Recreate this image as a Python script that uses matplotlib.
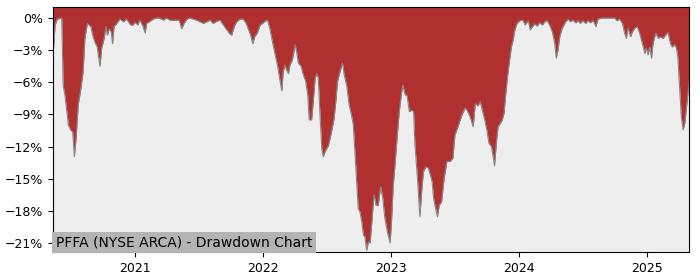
import matplotlib
matplotlib.use("Agg")
import matplotlib.pyplot as plt
import matplotlib.dates as mdates
from matplotlib.ticker import FuncFormatter
import pandas as pd

title = "PFFA (NYSE ARCA) - Drawdown Chart"

dates = [
"2020-05-12","2020-05-18","2020-05-24","2020-06-06","2020-06-10","2020-06-15","2020-06-25","2020-07-02",
"2020-07-07","2020-07-12","2020-07-17","2020-07-23","2020-07-30","2020-08-06","2020-08-11","2020-08-18",
"2020-08-28","2020-09-02","2020-09-09","2020-09-15","2020-09-23","2020-09-28","2020-10-05","2020-10-10",
"2020-10-14","2020-10-20","2020-10-25","2020-10-29","2020-11-02","2020-11-10","2020-11-19","2020-11-29",
"2020-12-08","2020-12-18","2020-12-25","2021-01-01","2021-01-09","2021-01-15","2021-01-23","2021-01-30",
"2021-02-03","2021-02-13","2021-02-22","2021-03-04","2021-03-11","2021-03-23","2021-04-01","2021-04-11",
"2021-04-20","2021-04-30","2021-05-07","2021-05-14","2021-05-21","2021-05-29","2021-06-07","2021-06-16",
"2021-06-26","2021-07-06","2021-07-15","2021-07-25","2021-08-03","2021-08-12","2021-08-22","2021-09-01",
"2021-09-10","2021-09-20","2021-09-29","2021-10-04","2021-10-11","2021-10-18","2021-10-28","2021-11-06",
"2021-11-14","2021-11-20","2021-11-27","2021-12-03","2021-12-09","2021-12-16","2021-12-24","2021-12-31",
"2022-01-07","2022-01-14","2022-01-21","2022-01-28","2022-02-05","2022-02-12","2022-02-19","2022-02-24",
"2022-02-28","2022-03-05","2022-03-10","2022-03-15","2022-03-19","2022-03-26","2022-04-03","2022-04-07",
"2022-04-12","2022-04-20","2022-04-26","2022-05-03","2022-05-09","2022-05-13","2022-05-20","2022-05-25",
"2022-05-30","2022-06-04","2022-06-08","2022-06-13","2022-06-18","2022-06-22","2022-06-27","2022-07-07",
"2022-07-16","2022-07-23","2022-07-28","2022-08-02","2022-08-09","2022-08-16","2022-08-21","2022-08-28",
"2022-09-04","2022-09-11","2022-09-16","2022-09-21","2022-09-26","2022-09-30","2022-10-05","2022-10-10",
"2022-10-15","2022-10-19","2022-10-24","2022-10-29","2022-11-03","2022-11-08","2022-11-14","2022-11-20",
"2022-11-26","2022-12-03","2022-12-09","2022-12-15","2022-12-22","2022-12-30","2023-01-03","2023-01-08",
"2023-01-13","2023-01-18","2023-01-25","2023-02-01","2023-02-04","2023-02-11","2023-02-16","2023-02-23",
"2023-03-02","2023-03-07","2023-03-11","2023-03-18","2023-03-25","2023-03-30","2023-04-04","2023-04-11",
"2023-04-18","2023-04-25","2023-04-29","2023-05-03","2023-05-07","2023-05-14","2023-05-19","2023-05-26",
"2023-06-02","2023-06-10","2023-06-19","2023-06-27","2023-07-03","2023-07-10","2023-07-16","2023-07-22",
"2023-08-01","2023-08-06","2023-08-11","2023-08-16","2023-08-24","2023-08-30","2023-09-07","2023-09-13",
"2023-09-19","2023-09-26","2023-10-02","2023-10-08","2023-10-15","2023-10-20","2023-10-24","2023-10-29",
"2023-11-03","2023-11-10","2023-11-15","2023-11-20","2023-11-27","2023-12-01","2023-12-06","2023-12-11",
"2023-12-16","2023-12-21","2023-12-27","2024-01-04","2024-01-13","2024-01-19","2024-01-28","2024-02-03",
"2024-02-09","2024-02-16","2024-02-22","2024-03-01","2024-03-09","2024-03-15","2024-03-22","2024-03-29",
"2024-04-06","2024-04-13","2024-04-17","2024-04-22","2024-04-27","2024-05-04","2024-05-14","2024-05-21",
"2024-05-27","2024-06-04","2024-06-12","2024-06-18","2024-06-25","2024-07-02","2024-07-10","2024-07-17",
"2024-07-24","2024-07-31","2024-08-08","2024-08-14","2024-08-24","2024-09-07","2024-09-22","2024-10-01",
"2024-10-07","2024-10-15","2024-10-23","2024-10-29","2024-11-03","2024-11-08","2024-11-15","2024-11-20",
"2024-11-27","2024-12-04","2024-12-11","2024-12-19","2024-12-26","2024-12-30","2025-01-04","2025-01-09",
"2025-01-14","2025-01-18","2025-01-26","2025-02-02","2025-02-08","2025-02-16","2025-02-23","2025-03-02",
"2025-03-09","2025-03-14","2025-03-21","2025-03-26","2025-03-30","2025-04-04","2025-04-09","2025-04-14",
"2025-04-19","2025-04-23","2025-04-28","2025-05-01",
]

drawdown = [
-3.5,-0.65,-0.1,0.0,-6.3,-7.2,-10.0,-10.5,
-10.6,-12.95,-11.2,-8.1,-6.7,-5.0,-1.9,-0.5,
-0.8,-1.6,-2.3,-2.7,-4.5,-2.8,-1.9,-0.8,
-1.6,-1.0,-1.3,-2.4,-0.8,-0.5,-0.1,-0.35,
-0.1,-0.6,-0.7,-0.4,-0.65,-0.2,-0.7,-1.4,
-0.5,-0.3,-0.1,0.0,0.0,-0.2,0.0,-0.2,
-0.2,-0.2,-0.2,-1.0,-0.5,-0.1,0.0,-0.1,
-0.2,-0.35,-0.5,-0.35,-0.2,-0.5,-0.3,-0.2,
-0.65,-1.1,-1.5,-1.6,-0.8,-0.35,-0.1,-0.1,
-0.5,-1.0,-1.6,-2.4,-1.7,-1.4,-0.65,-0.5,
-0.3,-0.2,-1.0,-2.2,-3.45,-4.5,-5.9,-6.8,
-5.0,-4.4,-4.9,-5.2,-4.4,-3.9,-2.5,-3.1,
-4.2,-4.5,-5.3,-5.9,-7.2,-9.5,-9.5,-7.7,
-5.6,-5.2,-5.6,-9.1,-12.2,-12.95,-12.5,-11.9,
-10.6,-9.4,-7.8,-5.9,-5.0,-4.2,-5.3,-6.3,
-8.1,-9.1,-10.0,-12.8,-15.6,-17.8,-18.1,-19.0,
-20.3,-20.4,-21.7,-20.9,-21.0,-19.0,-16.5,-17.5,
-17.5,-15.75,-16.8,-18.7,-19.95,-21.0,-19.0,-15.6,
-13.7,-11.55,-8.75,-6.9,-6.25,-7.2,-7.2,-8.75,
-8.6,-8.75,-11.9,-15.0,-18.55,-16.2,-14.35,-13.9,
-14.0,-14.8,-15.3,-16.8,-17.5,-18.55,-17.5,-17.15,
-15.0,-13.4,-13.4,-13.1,-10.9,-10.3,-9.7,-9.1,
-8.4,-8.6,-8.9,-9.3,-10.15,-8.0,-8.2,-7.8,
-8.6,-9.5,-10.45,-11.7,-12.0,-12.95,-13.8,-11.7,
-10.15,-9.8,-9.5,-8.9,-6.4,-5.2,-3.9,-2.7,
-2.05,-1.1,-0.5,-0.25,-0.2,-0.65,-0.25,-1.1,
-0.8,-0.55,-0.75,-0.45,-0.65,-0.35,-0.25,-0.65,
-1.3,-2.4,-3.75,-3.0,-1.75,-0.95,-0.35,-0.1,
-0.35,-0.2,-0.45,-0.25,-0.5,-0.25,-0.5,-0.25,
-0.45,-0.2,-0.8,-0.1,0.0,0.0,0.0,0.0,
-0.25,-0.1,-0.5,-1.4,-1.9,-0.95,-1.75,-1.3,
-0.95,-0.8,-1.4,-2.4,-3.3,-2.8,-3.45,-2.7,
-3.75,-2.4,-1.4,-1.9,-1.75,-1.9,-1.6,-1.35,
-2.4,-2.7,-2.5,-2.8,-3.6,-6.4,-9.2,-10.45,
-9.8,-8.6,-7.0,-6.1,
]

yticks = [0, -3, -6, -9, -12, -15, -18, -21]

x = pd.to_datetime(dates)

fig = plt.figure(figsize=(7, 2.8), dpi=100)
ax = fig.add_axes([0.0757, 0.1, 0.9086, 0.875])
ax.set_facecolor("#eeeeee")
top = 1.03
bottom = -21.85
ax.fill_between(x, drawdown, top, color="#b03030", linewidth=0)
ax.plot(x, drawdown, color="#888888", linewidth=0.8)
ax.set_ylim(bottom, top)
ax.set_xlim(x[0], x[-1])
ax.set_yticks(yticks)
ax.yaxis.set_major_formatter(FuncFormatter(lambda v, p: f"{int(round(v))}%".replace("-", "\u2212")))
ax.xaxis.set_major_locator(mdates.YearLocator())
ax.xaxis.set_major_formatter(mdates.DateFormatter("%Y"))
ax.tick_params(labelsize=9)
ax.text(0.004, 0.012, title, transform=ax.transAxes, fontsize=10, color="black",
        ha="left", va="bottom",
        bbox=dict(facecolor="#b4b4b4", edgecolor="none", pad=2.5))

fig.savefig("out.png", dpi=100)
